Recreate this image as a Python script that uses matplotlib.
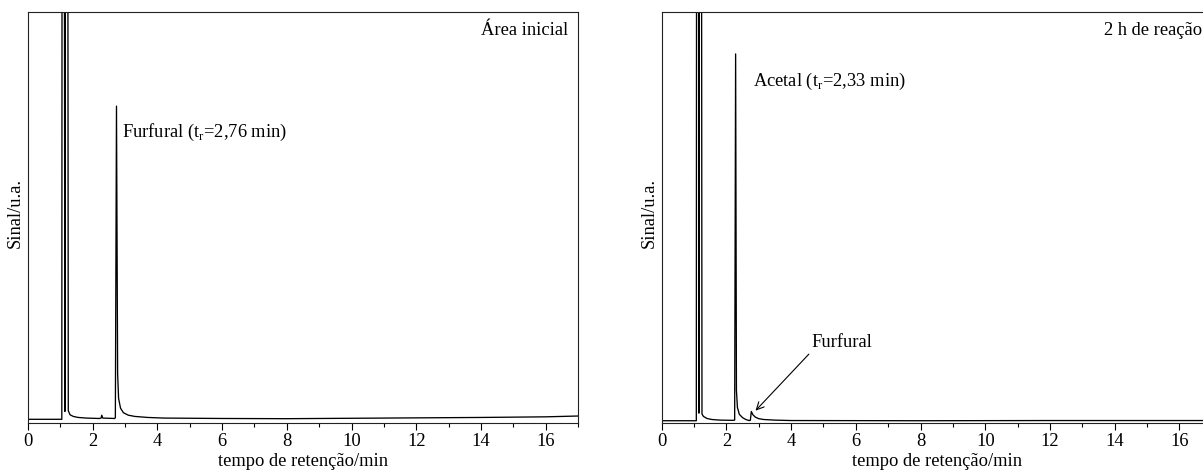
import matplotlib
matplotlib.use("Agg")
import matplotlib.pyplot as plt
from matplotlib.ticker import MultipleLocator

plt.rcParams['font.family'] = ['Liberation Serif', 'DejaVu Serif']
plt.rcParams['mathtext.fontset'] = 'custom'
plt.rcParams['mathtext.rm'] = 'Liberation Serif'

# --- Data (time / min, signal / a.u.) ---
t_inicial = [0.00, 1.045, 1.075, 1.14, 1.19, 1.245, 1.30, 1.40, 1.55, 1.80, 2.20, 2.26,
             2.28, 2.31, 2.68, 2.70, 2.735, 2.77, 2.80, 2.86, 2.95, 3.10, 3.30, 3.70,
             4.20, 6.0, 8.0, 10.0, 12.0, 14.0, 16.0, 17.0]
s_inicial = [0.9, 0.9, 500, 2.8, 500, 3.0, 2.0, 1.6, 1.35, 1.2, 1.1, 1.2,
             1.9, 1.2, 1.1, 1.3, 77.1, 12.0, 6.0, 3.6, 2.5, 1.9, 1.6, 1.35,
             1.2, 1.1, 1.05, 1.15, 1.25, 1.35, 1.5, 1.7]

t_2h = [0.00, 1.07, 1.10, 1.15, 1.19, 1.245, 1.29, 1.40, 1.55, 1.80, 2.20, 2.255,
        2.285, 2.31, 2.34, 2.40, 2.50, 2.60, 2.70, 2.74, 2.77, 2.82, 2.90, 3.00,
        3.15, 3.50, 4.00, 8.0, 12.0, 17.0]
s_2h = [0.55, 0.55, 500, 2.4, 500, 2.2, 1.6, 1.1, 0.85, 0.7, 0.65, 0.7,
        89.8, 8.0, 3.8, 2.1, 1.3, 0.85, 0.6, 0.65, 2.8, 2.0, 1.4, 1.05,
        0.85, 0.7, 0.6, 0.55, 0.6, 0.6]

xticks_major = [0, 2, 4, 6, 8, 10, 12, 14, 16]
panel_titles = ["Área inicial", "2 h de reação"]
xlabel = "tempo de retenção/min"
ylabel = "Sinal/u.a."
label_furfural = r"Furfural (t$_\mathregular{r}$=2,76 min)"
label_acetal = r"Acetal (t$_\mathregular{r}$=2,33 min)"
label_arrow = "Furfural"

FS = 13.3
W, H = 1203, 473
fig = plt.figure(figsize=(W / 100, H / 100), dpi=100)

ax_w = 550 / W
ax_h = 411 / H
ax_b = 50 / H
ax1 = fig.add_axes([28 / W, ax_b, ax_w, ax_h])
ax2 = fig.add_axes([661.7 / W, ax_b, ax_w, ax_h])

for ax, t, s, title in [(ax1, t_inicial, s_inicial, panel_titles[0]),
                        (ax2, t_2h, s_2h, panel_titles[1])]:
    ax.plot(t, s, color='black', lw=0.95)
    ax.set_xlim(0, 17)
    ax.set_ylim(0, 100)
    ax.set_xticks(xticks_major)
    ax.xaxis.set_minor_locator(MultipleLocator(1))
    ax.set_yticks([])
    ax.tick_params(axis='x', which='major', direction='out', length=5, width=0.8,
                   labelsize=FS, pad=2.5, top=False)
    ax.tick_params(axis='x', which='minor', direction='out', length=2.9, width=0.8, top=False)
    for sp in ax.spines.values():
        sp.set_linewidth(0.8)
        sp.set_color('#222222')
    ax.set_xlabel(xlabel, fontsize=FS, labelpad=1.5)
    ax.set_ylabel(ylabel, fontsize=FS)
    ax.yaxis.set_label_coords(-0.007, 0.51)
    ax.text(0.982, 0.956, title, transform=ax.transAxes, ha='right', va='center',
            fontsize=FS)

ax1.text(2.90, 70.6, label_furfural, ha='left', va='center', fontsize=FS)
ax2.text(2.81, 83.2, label_acetal, ha='left', va='center', fontsize=FS)
ax2.annotate(label_arrow, xy=(2.90, 3.0), xytext=(4.63, 19.5), ha='left', va='center',
             fontsize=FS,
             arrowprops=dict(arrowstyle='->', color='black', lw=0.8,
                             shrinkA=0, shrinkB=0,
                             relpos=(0.0, 0.0)))

fig.savefig("out.png", dpi=100)
